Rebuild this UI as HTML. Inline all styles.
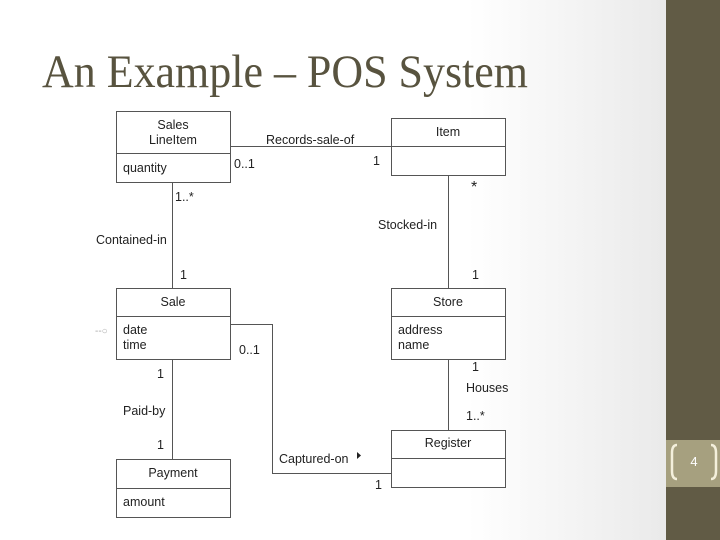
<!DOCTYPE html>
<html><head><meta charset="utf-8"><style>
html,body{margin:0;padding:0;width:720px;height:540px;overflow:hidden}
</style></head><body>
<svg width="720" height="540" xmlns="http://www.w3.org/2000/svg">
<defs><linearGradient id="bg" x1="0" x2="1" y1="0" y2="0">
<stop offset="0" stop-color="#ffffff"/><stop offset="0.65" stop-color="#ffffff"/><stop offset="1" stop-color="#e4e4e4"/></linearGradient></defs>
<rect width="720" height="540" fill="url(#bg)"/>
<rect x="666" y="0" width="54" height="540" fill="#615b45"/>
<rect x="666" y="440" width="54" height="47" fill="#a6a07f"/>
<text x="42" y="87" font-family="Liberation Serif, serif" font-size="47" fill="#58533f" textLength="486" lengthAdjust="spacingAndGlyphs">An Example – POS System</text>
<g fill="none" stroke="#f4f0dc" stroke-width="2.5">
<path d="M677,445 q-5,0 -5,8 v18 q0,8 5,8"/>
<path d="M711,445 q5,0 5,8 v18 q0,8 -5,8"/>
</g>
<text x="694" y="466" font-family="Liberation Sans, sans-serif" font-size="13" fill="#fff" text-anchor="middle">4</text>
<g fill="#fff" stroke="#555" stroke-width="1">
<rect x="116.5" y="111.5" width="114" height="71"/>
<rect x="391.5" y="118.5" width="114" height="57"/>
<rect x="116.5" y="288.5" width="114" height="71"/>
<rect x="391.5" y="288.5" width="114" height="71"/>
<rect x="391.5" y="430.5" width="114" height="57"/>
<rect x="116.5" y="459.5" width="114" height="58"/>
</g>
<g stroke="#555" stroke-width="1" fill="none">
<path d="M116,153.5H231M391,146.5H506M116,316.5H231M391,316.5H506M391,458.5H506M116,488.5H231"/>
<path d="M231,146.5H391M172.5,182V288M172.5,359V459M448.5,175V288M448.5,359V430M231,324.5H272.5V473.5H391"/>
</g>
<g font-family="Liberation Sans, sans-serif" font-size="12.5" fill="#222">
<text x="173" y="129" text-anchor="middle">Sales</text>
<text x="173" y="144" text-anchor="middle">LineItem</text>
<text x="123" y="172">quantity</text>
<text x="448" y="136" text-anchor="middle">Item</text>
<text x="173" y="306" text-anchor="middle">Sale</text>
<text x="123" y="334">date</text>
<text x="123" y="349">time</text>
<text x="448" y="306" text-anchor="middle">Store</text>
<text x="398" y="334">address</text>
<text x="398" y="349">name</text>
<text x="448" y="447" text-anchor="middle">Register</text>
<text x="173" y="477" text-anchor="middle">Payment</text>
<text x="123" y="506">amount</text>
<text x="266" y="144">Records-sale-of</text>
<text x="234" y="168">0..1</text>
<text x="373" y="165">1</text>
<text x="471" y="192" font-size="16">*</text>
<text x="378" y="229">Stocked-in</text>
<text x="472" y="279">1</text>
<text x="175" y="201">1..*</text>
<text x="96" y="244">Contained-in</text>
<text x="180" y="279">1</text>
<text x="239" y="354">0..1</text>
<text x="157" y="378">1</text>
<text x="123" y="415">Paid-by</text>
<text x="157" y="449">1</text>
<text x="472" y="371">1</text>
<text x="466" y="392">Houses</text>
<text x="466" y="420">1..*</text>
<text x="279" y="463">Captured-on</text>
<text x="375" y="489">1</text>
<text x="95" y="334" fill="#aaa" font-size="10">--○</text>
</g>
<path d="M357,452 l4,3.5 -4,3.5z" fill="#222"/>
</svg>
</body></html>
